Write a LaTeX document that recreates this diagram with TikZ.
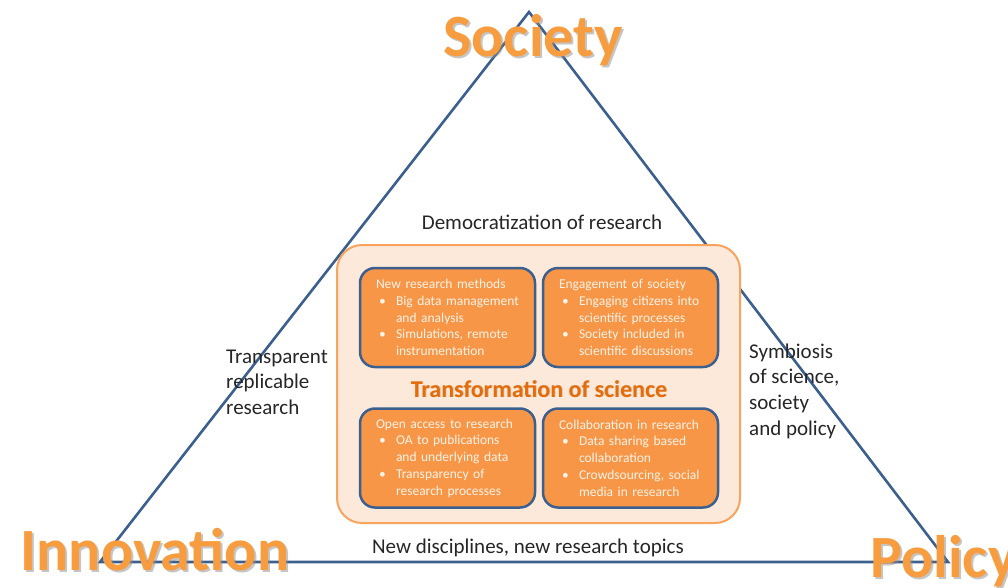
\documentclass[tikz,border=0pt]{standalone}
\usepackage{fontspec}
\setmainfont{Carlito}

\definecolor{triblue}{RGB}{59,95,142}
\definecolor{peach}{RGB}{253,233,218}
\definecolor{peachline}{RGB}{248,163,94}
\definecolor{boxorange}{RGB}{247,150,70}
\definecolor{boxtext}{RGB}{255,243,232}
\definecolor{titleorange}{RGB}{228,108,10}
\definecolor{cornerorange}{RGB}{248,156,64}
\definecolor{labeltext}{RGB}{38,38,38}

% bullet and hanging indent for the box lists
\newcommand{\bul}{\makebox[20pt][l]{\hspace{3pt}\textbullet}}
\newcommand{\ind}{\hspace*{20pt}}

\begin{document}
\begin{tikzpicture}[x=1pt,y=-1pt]
  \tikzstyle{corner} = [font=\fontsize{60}{62}\selectfont\bfseries, text=cornerorange, inner sep=0pt]
  \tikzstyle{cshadow} = [font=\fontsize{60}{62}\selectfont\bfseries, text=black!45, opacity=0.5, inner sep=0pt]
  \tikzstyle{side} = [font=\fontsize{21}{25.6}\selectfont, text=labeltext, align=left, inner sep=0pt]
  \tikzstyle{topic} = [draw=triblue, line width=2.5pt, fill=boxorange, rounded corners=15pt,
    text=boxtext, font=\fontsize{13.5}{16.7}\selectfont, align=left,
    text width=143pt, inner xsep=16pt, minimum height=99pt]
  \useasboundingbox (0,0) rectangle (1008,587);

  % the triangle
  \coordinate (top) at (529,12);
  \coordinate (left) at (100,562);
  \coordinate (right) at (948,562);
  \draw[triblue, line width=2.6pt, line join=miter] (top) -- (left) -- (right) -- cycle;

  % transformation panel
  \draw[peachline, fill=peach, line width=2pt, rounded corners=25pt] (337,245) rectangle (740,523);

  \node[topic] (methods) at (447.5,317.5) {New research methods\\
    \bul Big data management\\ \ind and analysis\\
    \bul Simulations, remote\\ \ind instrumentation};
  \node[topic] (engage) at (630.5,317.5) {Engagement of society\\
    \bul Engaging citizens into\\ \ind scientific processes\\
    \bul Society included in\\ \ind scientific discussions};
  \node[topic] (access) at (447.5,458) {Open access to research\\
    \bul OA to publications\\ \ind and underlying data\\
    \bul Transparency of\\ \ind research processes};
  \node[topic] (collab) at (630.5,458) {Collaboration in research\\
    \bul Data sharing based\\ \ind collaboration\\
    \bul Crowdsourcing, social\\ \ind media in research};

  \node[font=\fontsize{24}{28}\selectfont\bfseries, text=titleorange!60!black, opacity=0.25, anchor=base] (title-s) at (539.8,397.8) {Transformation of science};
  \node[font=\fontsize{24}{28}\selectfont\bfseries, text=titleorange, anchor=base] (title) at (539,397) {Transformation of science};

  % edge labels
  \node[side, anchor=base] (democ) at (542,229) {Democratization of research};
  \node[side, anchor=north west] (transp) at (226,349.5) {Transparent\\replicable\\research};
  \node[side, anchor=north west] (symb) at (749,343.5) {Symbiosis\\of science,\\society\\and policy};
  \node[side, anchor=base] (discip) at (528,553) {New disciplines, new research topics};

  % corner labels
  \node[cshadow, anchor=base] (society-s) at (535,58) {Society};
  \node[corner, anchor=base] (society) at (533,56) {Society};
  \node[cshadow, anchor=base] (innov-s) at (157,572) {Innovation};
  \node[corner, anchor=base] (innov) at (155,570) {Innovation};
  \node[cshadow, anchor=base west] (policy-s) at (872,579) {Policy};
  \node[corner, anchor=base west] (policy) at (870,577) {Policy};
\end{tikzpicture}
\end{document}
